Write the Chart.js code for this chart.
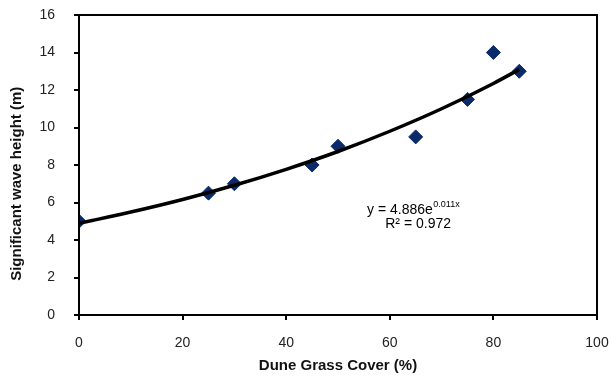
<!DOCTYPE html>
<html>
<head>
<meta charset="utf-8">
<script src="https://cdn.jsdelivr.net/npm/chart.js@4/dist/chart.umd.min.js"></script>
<style>
html,body{margin:0;padding:0;background:#fff;}
#wrap{width:611px;height:377px;}
</style>
</head>
<body>
<div id="wrap"><canvas id="c" width="611" height="377"></canvas></div>
<script>
// Observed data
const coverPct = [0, 25, 30, 45, 50, 65, 75, 80, 85];
const waveHeight = [5, 6.5, 7, 8, 9, 9.5, 11.5, 14, 13];
// Exponential trendline, values
const trendX = [0, 10, 20, 30, 40, 50, 60, 70, 80, 85];
const trendY = [4.89, 5.49, 6.16, 6.92, 7.77, 8.72, 9.8, 11.0, 12.35, 13.1];
const xTicks = [0, 20, 40, 60, 80, 100];
const yTicks = [0, 2, 4, 6, 8, 10, 12, 14, 16];
const eqMain = "y = 4.886e";
const eqSup = "0.011x";
const eqR2 = "R\u00b2 = 0.972";
const xTitle = "Dune Grass Cover (%)";
const yTitle = "Significant wave height (m)";

const FONT = "'Liberation Sans', Arial, sans-serif";

const pts = coverPct.map((x, i) => ({x, y: waveHeight[i]}));
const trend = trendX.map((x, i) => ({x, y: trendY[i]}));

const framePlugin = {
  id: 'frame',
  afterDraw(chart) {
    const {ctx, chartArea: a, scales} = chart;
    ctx.save();
    ctx.strokeStyle = '#000';
    ctx.lineWidth = 2;
    ctx.strokeRect(a.left, a.top, a.right - a.left, a.bottom - a.top);
    // equation text
    const cx = scales.x.getPixelForValue(64.5);
    const y1 = scales.y.getPixelForValue(5.6);
    const y2 = scales.y.getPixelForValue(4.85);
    ctx.fillStyle = '#000';
    ctx.textBaseline = 'middle';
    ctx.font = "14px " + FONT;
    const w1 = ctx.measureText(eqMain).width;
    ctx.font = "9px " + FONT;
    const w2 = ctx.measureText(eqSup).width;
    const start = cx - (w1 + w2) / 2;
    ctx.font = "14px " + FONT;
    ctx.textAlign = 'left';
    ctx.fillText(eqMain, start, y1);
    ctx.font = "9px " + FONT;
    ctx.fillText(eqSup, start + w1 + 0.5, y1 - 5);
    ctx.font = "14px " + FONT;
    ctx.textAlign = 'center';
    ctx.fillText(eqR2, cx + 5, y2);
    ctx.restore();
  }
};

new Chart(document.getElementById('c'), {
  type: 'scatter',
  data: {
    datasets: [
      {
        label: 'Trend',
        data: trend,
        showLine: true,
        borderColor: '#000',
        borderWidth: 3.5,
        pointRadius: 0,
        cubicInterpolationMode: 'monotone',
        order: 0
      },
      {
        label: 'Observed',
        data: pts,
        pointStyle: 'rectRot',
        pointRadius: 7,
        backgroundColor: '#0a2a6a',
        borderColor: '#0a2a6a',
        borderWidth: 1,
        order: 1
      }
    ]
  },
  options: {
    responsive: false,
    animation: false,
    layout: {padding: {left: 0, right: 14, top: 15, bottom: 0}},
    plugins: {legend: {display: false}, tooltip: {enabled: false}},
    scales: {
      x: {
        type: 'linear',
        min: 0, max: 100,
        afterBuildTicks(s) { s.ticks = xTicks.map(v => ({value: v})); },
        afterFit(s) { s.height = 62; s.paddingLeft = 0; s.paddingRight = 0; },
        grid: {drawOnChartArea: false, drawTicks: true, tickLength: 5, color: '#000', lineWidth: 2},
        border: {display: true, color: '#000', width: 2},
        ticks: {color: '#222', padding: 15, font: {family: FONT, size: 14}, maxRotation: 0},
        title: {display: true, text: xTitle, color: '#111', font: {family: FONT, size: 15, weight: 'bold'}, padding: {top: 0, bottom: 2}}
      },
      y: {
        type: 'linear',
        min: 0, max: 16,
        afterBuildTicks(s) { s.ticks = yTicks.map(v => ({value: v})); },
        afterFit(s) { s.width = 79; s.paddingTop = 0; s.paddingBottom = 0; },
        grid: {drawOnChartArea: false, drawTicks: true, tickLength: 5, color: '#000', lineWidth: 2},
        border: {display: true, color: '#000', width: 2},
        ticks: {color: '#222', padding: 19, font: {family: FONT, size: 14}},
        title: {display: true, text: yTitle + '\u00a0'.repeat(9), color: '#111', font: {family: FONT, size: 15, weight: 'bold'}, padding: {top: 8, bottom: 0}}
      }
    }
  },
  plugins: [framePlugin]
});
</script>
</body>
</html>
